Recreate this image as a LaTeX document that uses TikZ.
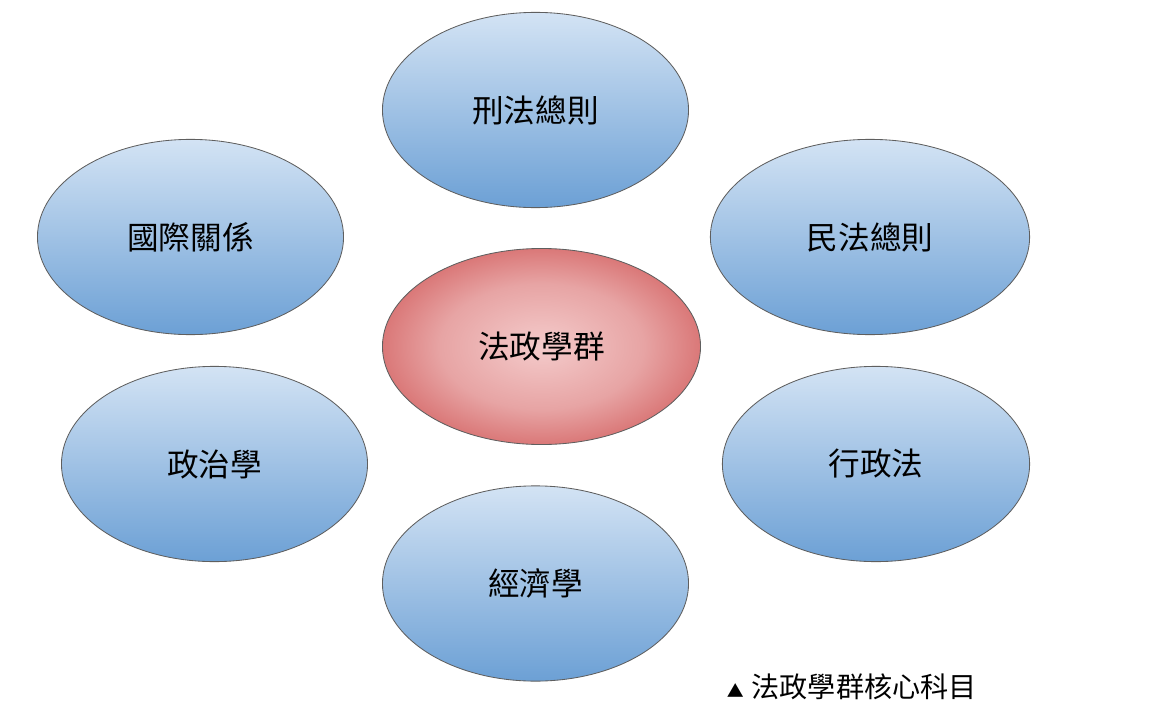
\documentclass[tikz,border=0pt]{standalone}
\usepackage{fontspec}
\newfontfamily\cjk{Noto Sans CJK TC}
\usetikzlibrary{shapes.geometric}

\definecolor{bluetop}{HTML}{D3E3F4}
\definecolor{bluebot}{HTML}{6CA0D5}
\definecolor{pinkin}{HTML}{F4CBCB}
\definecolor{pinkmid}{HTML}{E7A4A4}
\definecolor{pinkout}{HTML}{DA7878}
\definecolor{rim}{HTML}{5F5F5F}
\pgfdeclareradialshading{corefill}{\pgfpoint{0bp}{0bp}}{%
  color(0bp)=(pinkin); color(16bp)=(pinkmid); color(25bp)=(pinkout);
  color(50bp)=(pinkout)}

\begin{document}
\begin{tikzpicture}
      [
        x=0.025cm, y=-0.025cm,
        oval/.style={ellipse, draw=rim, line width=0.6pt, inner sep=0pt,
          minimum width=7.65cm, minimum height=4.88cm,
          font=\cjk\fontsize{22.5}{26}\selectfont},
        subject/.style={oval, top color=bluetop, bottom color=bluebot},
        core/.style={oval, shading=corefill,
          minimum width=7.95cm, minimum height=4.9cm}
      ]
      \useasboundingbox (0,0) rectangle (1166,710);

      \node[subject] (xingfa) at (535.5,110) {刑法總則};
      \node[subject] (guoji) at (190.5,237) {國際關係};
      \node[subject, minimum width=7.98cm] (minfa) at (870,237) {民法總則};
      \node[core] (fazheng) at (541.5,346.5) {法政學群};
      \node[subject] (zhengzhi) at (214.5,464) {政治學};
      \node[subject, minimum width=7.68cm] (xingzheng) at (876,464) {行政法};
      \node[subject] (jingji) at (535.5,583.5) {經濟學};

      \node[font=\cjk\fontsize{20}{24}\selectfont, anchor=west] (note) at (722,687)
        {{\fontsize{12}{16}\selectfont ▲}\;法政學群核心科目};

    \end{tikzpicture}
\end{document}
